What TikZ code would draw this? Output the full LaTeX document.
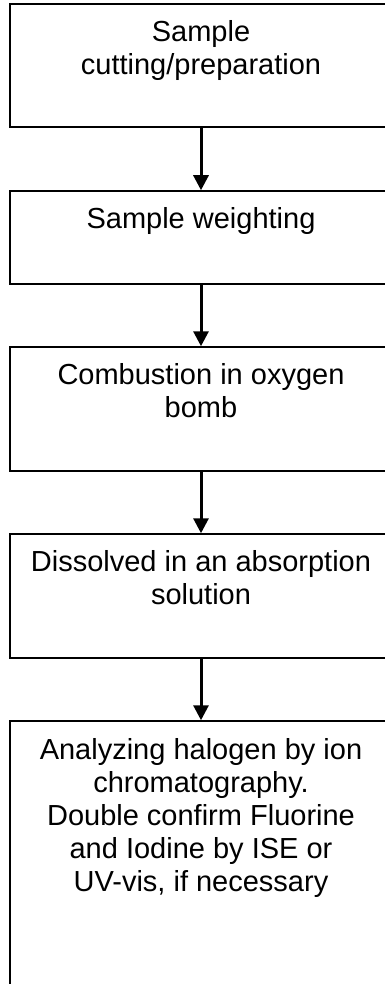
\documentclass[tikz,border=0pt]{standalone}
\usepackage{fontspec}
\setmainfont{Liberation Sans}
\usetikzlibrary{arrows.meta}
\begin{document}
\begin{tikzpicture}[x=1pt,y=-1pt,
  stepbox/.style={draw=black, line width=1.5pt, minimum width=382pt, inner sep=0pt},
  lbl/.style={anchor=north, inner sep=0pt, align=center, font=\fontsize{29pt}{33pt}\selectfont},
  arr/.style={line width=3pt, -{Triangle[width=15pt,length=15pt]}}]
\useasboundingbox (0,0) rectangle (384,984);
\node[stepbox, minimum height=123pt] (b1) at (201,65.5) {};
\node[stepbox, minimum height=93pt] (b2) at (201,237.5) {};
\node[stepbox, minimum height=124pt] (b3) at (201,409) {};
\node[stepbox, minimum height=124pt] (b4) at (201,596) {};
\node[stepbox, minimum height=279pt] (b5) at (201,860.5) {};
\node[lbl] (t1) at ([yshift=-17pt]b1.north) {Sample\\cutting/preparation};
\node[lbl] (t2) at ([yshift=-17pt]b2.north) {Sample weighting};
\node[lbl] (t3) at ([yshift=-17pt]b3.north) {Combustion in oxygen\\bomb};
\node[lbl] (t4) at ([yshift=-17pt]b4.north) {Dissolved in an absorption\\solution};
\node[lbl] (t5) at ([yshift=-18pt]b5.north) {Analyzing halogen by ion\\chromatography.\\Double confirm Fluorine\\and Iodine by ISE or\\UV-vis, if necessary};
\draw[arr] (b1.south) -- (b2.north);
\draw[arr] (b2.south) -- (b3.north);
\draw[arr] (b3.south) -- (b4.north);
\draw[arr] (b4.south) -- (b5.north);
\end{tikzpicture}
\end{document}
